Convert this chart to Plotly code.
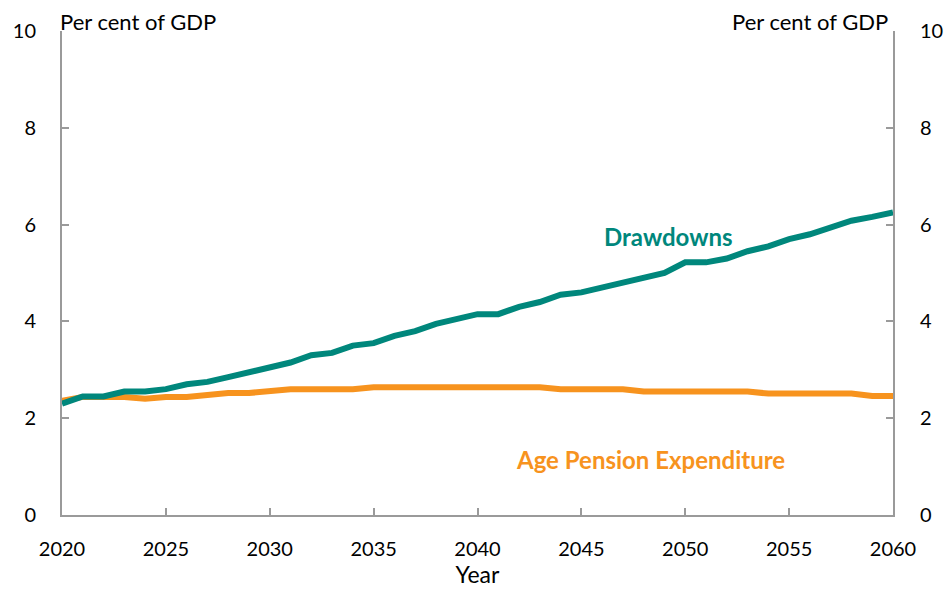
import plotly.graph_objects as go

years = list(range(2020, 2061))
drawdowns = [2.30, 2.45, 2.45, 2.55, 2.55, 2.60, 2.70, 2.75, 2.85, 2.95,
             3.05, 3.15, 3.30, 3.35, 3.50, 3.55, 3.70, 3.80, 3.95, 4.05,
             4.15, 4.15, 4.30, 4.40, 4.55, 4.60, 4.70, 4.80, 4.90, 5.00,
             5.22, 5.22, 5.30, 5.45, 5.55, 5.70, 5.80, 5.95, 6.08, 6.16,
             6.25]
age_pension = [2.36, 2.44, 2.44, 2.44, 2.40, 2.44, 2.44, 2.48, 2.52, 2.52,
               2.56, 2.60, 2.60, 2.60, 2.60, 2.64, 2.64, 2.64, 2.64, 2.64,
               2.64, 2.64, 2.64, 2.64, 2.60, 2.60, 2.60, 2.60, 2.55, 2.55,
               2.55, 2.55, 2.55, 2.55, 2.51, 2.51, 2.51, 2.51, 2.51, 2.46,
               2.46]
x_ticks = [2020, 2025, 2030, 2035, 2040, 2045, 2050, 2055, 2060]
y_ticks = [0, 2, 4, 6, 8, 10]

TEAL = "#00877C"
ORANGE = "#F7931E"
FONT = "Lato, 'Open Sans', sans-serif"
GREY = "#9a9a9a"
FS = 20

fig = go.Figure()
fig.add_trace(go.Scatter(x=years, y=age_pension, mode="lines",
                         line=dict(color=ORANGE, width=6), name="Age Pension Expenditure"))
fig.add_trace(go.Scatter(x=years, y=drawdowns, mode="lines",
                         line=dict(color=TEAL, width=6), name="Drawdowns"))
# invisible trace to anchor the right-hand axis
fig.add_trace(go.Scatter(x=years, y=drawdowns, mode="lines", yaxis="y2",
                         line=dict(width=0), opacity=0, hoverinfo="skip",
                         showlegend=False))

fig.update_layout(
    width=952, height=592,
    margin=dict(l=54, r=67, t=23, b=85, autoexpand=False),
    plot_bgcolor="white", paper_bgcolor="white",
    showlegend=False,
    font=dict(family=FONT, size=FS, color="black"),
    xaxis=dict(range=[2020, 2060], tickvals=x_ticks, ticks="inside", ticklen=7,
               tickcolor=GREY, tickwidth=1.5, showline=True, linecolor=GREY, linewidth=2,
               showgrid=False, zeroline=False, automargin=False,
               ticklabelstandoff=15,
               title=dict(text="Year", font=dict(size=23), standoff=7),
               tickfont=dict(size=FS)),
    yaxis=dict(range=[0, 10], tickvals=y_ticks, ticks="inside", ticklen=7,
               tickcolor=GREY, tickwidth=1.5, showline=True, linecolor=GREY, linewidth=2,
               showgrid=False, zeroline=False, ticklabelstandoff=20, automargin=False,
               tickfont=dict(size=FS)),
    yaxis2=dict(range=[0, 10], tickvals=y_ticks, ticks="inside", ticklen=7,
                tickcolor=GREY, tickwidth=1.5, showline=True, linecolor=GREY, linewidth=2,
                showgrid=False, zeroline=False, overlaying="y", side="right",
                ticklabelstandoff=21, automargin=False, tickfont=dict(size=FS)),
    annotations=[
        dict(text="Per cent of GDP", xref="paper", yref="paper", x=0, y=1,
             xanchor="left", yanchor="bottom", showarrow=False,
             font=dict(size=22), yshift=-5, xshift=-3, borderpad=0),
        dict(text="Per cent of GDP", xref="paper", yref="paper", x=1, y=1,
             xanchor="right", yanchor="bottom", showarrow=False,
             font=dict(size=22), yshift=-5, xshift=-4, borderpad=0),
        dict(text="<b>Drawdowns</b>", x=2049.2, y=5.75, xref="x", yref="y",
             showarrow=False, font=dict(size=24, color=TEAL), xanchor="center"),
        dict(text="<b>Age Pension Expenditure</b>", x=2048.35, y=1.14, xref="x", yref="y",
             showarrow=False, font=dict(size=24, color=ORANGE), xanchor="center"),
    ],
)

fig.write_html("out.html")
